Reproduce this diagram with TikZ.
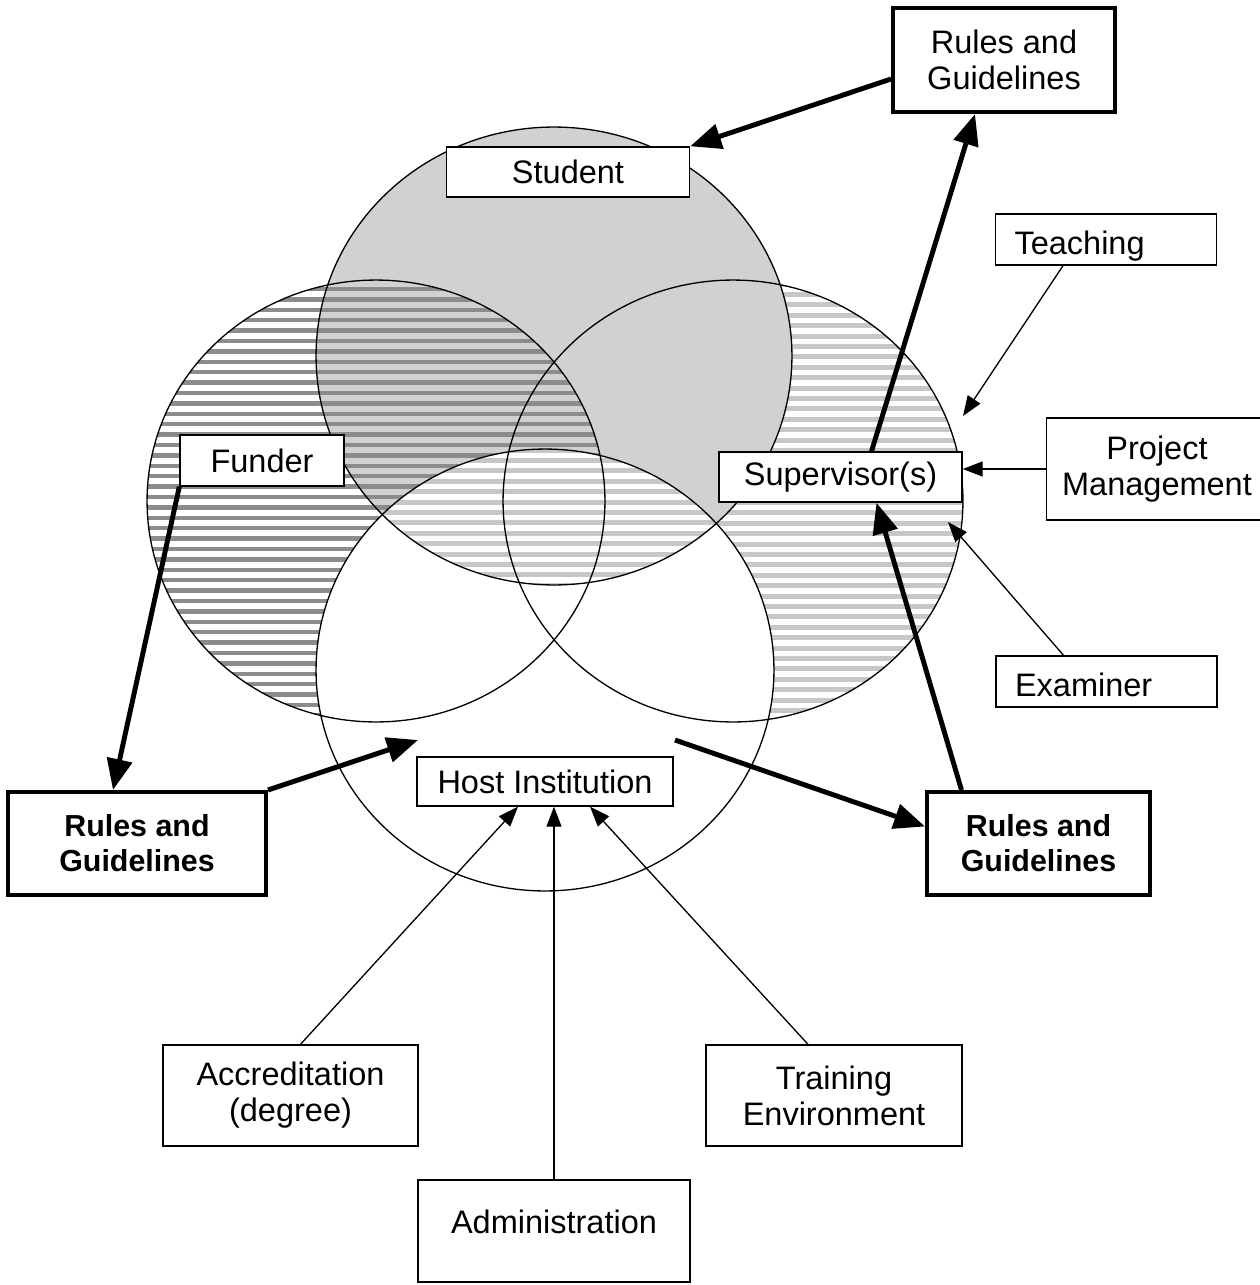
\documentclass[tikz,border=0pt]{standalone}
\usepackage{fontspec}
\setmainfont{Liberation Sans}
\usetikzlibrary{arrows.meta,calc}

\def\circStu{(554,356) ellipse (4.76cm and 4.58cm)}
\def\circFun{(376,501) ellipse (4.58cm and 4.42cm)}
\def\circSup{(733,501) ellipse (4.6cm and 4.42cm)}
\def\circHost{(545,670) ellipse (4.58cm and 4.42cm)}

\begin{document}
\begin{tikzpicture}[x=0.02cm,y=-0.02cm,
  box/.style={draw,line width=0.8pt,fill=white,align=center,inner sep=0pt,
    font=\fontsize{18.5}{20.5}\selectfont},
  leftbox/.style={box,align=left,inner xsep=0.38cm,text width=3.66cm,
    text height=0.6cm,text depth=0pt,minimum width=4.42cm,minimum height=1.02cm},
  rulebox/.style={box,line width=2.3pt},
  rulebold/.style={rulebox,font=\fontsize{17.3}{20}\selectfont\bfseries},
  thick arrow/.style={line width=2.8pt,-{Triangle[length=0.62cm,width=0.5cm]}},
  thin arrow/.style={line width=0.75pt,-{Triangle[length=0.4cm,width=0.3cm]}},
  darkstripe/.style={black!45,line width=0.09cm},
  lightstripe/.style={black!22,line width=0.1cm}]
\useasboundingbox (0,0) rectangle (1260,1285);

% supervisor circle
\fill[white] \circSup;
\begin{scope}
  \clip \circSup;
  \foreach \y in {284,294.4,...,726} \draw[lightstripe] (500,\y) -- (970,\y);
\end{scope}
% funder circle
\fill[white] \circFun;
\begin{scope}
  \clip \circFun;
  \foreach \y in {289,299.4,...,726} \draw[darkstripe] (140,\y) -- (610,\y);
\end{scope}
% student circle
\fill[black!18] \circStu;
\begin{scope}
  \clip \circStu;
  \clip \circFun;
  \foreach \y in {289,299.4,...,726} \draw[darkstripe] (140,\y) -- (610,\y);
\end{scope}
% host circle
\fill[white] \circHost;
\begin{scope}
  \clip \circHost;
  \clip \circStu;
  \foreach \y in {450,460.4,...,590} \draw[lightstripe] (300,\y) -- (800,\y);
\end{scope}
\draw[line width=0.75pt] \circSup;
\draw[line width=0.75pt] \circFun;
\draw[line width=0.75pt] \circStu;
\draw[line width=0.75pt] \circHost;

% boxes
\node[rulebox,minimum width=4.44cm,minimum height=2.08cm] (trg) at (1004,60) {Rules and\\Guidelines};
\node[box,minimum width=4.86cm,minimum height=1cm] (stu) at (568,172) {Student};
\node[leftbox] (teach) at (1106,239.5) {Teaching};
\node[box,minimum width=4.42cm,minimum height=2.04cm] (pm) at (1157,469) {Project\\Management};
\node[box,minimum width=4.86cm,minimum height=1cm] (sup) at (840.5,477) {Supervisor(s)};
\node[box,minimum width=3.28cm,minimum height=1.02cm] (fun) at (262,460.5) {Funder};
\node[leftbox] (exam) at (1106.5,681.5) {Examiner};
\node[box,minimum width=5.12cm,minimum height=0.98cm] (host) at (545,781.5) {Host Institution};
\node[rulebold,minimum width=5.16cm,minimum height=2.06cm] (blg) at (137,843.5) {Rules and\\Guidelines};
\node[rulebold,minimum width=4.46cm,minimum height=2.06cm] (brg) at (1038.5,843.5) {Rules and\\Guidelines};
\node[box,minimum width=5.1cm,minimum height=2.02cm] (acc) at (290.5,1095.5) {Accreditation\\(degree)};
\node[box,minimum width=5.12cm,minimum height=2.02cm] (train) at (834,1095.5) {Training\\Environment};
\node[box,minimum width=5.44cm,minimum height=2.04cm,text depth=0.36cm] (adm) at (554,1231) {Administration};

\coordinate (hl) at (418,740);
\coordinate (hr) at (675,740);
\coordinate (tt) at (963,416);
\coordinate (te) at (948,522);

% rules and guidelines
\draw[thick arrow] ($(trg.west)+(0,19)$) -- (stu.north east);
\draw[thick arrow] ($(sup.north)+(31,0)$) -- ($(trg.south)+(-29,0)$);
\draw[thick arrow] ($(brg.north)+(-77,0)$) -- ($(sup.south)+(36,0)$);
\draw[thick arrow] (hr) -- ($(brg.west)+(0,-17)$);
\draw[thick arrow] (fun.south west) -- ($(blg.north)+(-24,0)$);
\draw[thick arrow] (blg.north east) -- (hl);

% supervisor roles
\draw[thin arrow] ($(teach.south)+(-43,0)$) -- (tt);
\draw[thin arrow] (pm.west) -- (pm.west -| sup.east);
\draw[thin arrow] ($(exam.north)+(-43,0)$) -- (te);

% host institution
\draw[thin arrow] ($(acc.north)+(10,0)$) -- ($(host.south)+(-27,0)$);
\draw[thin arrow] (adm.north) -- (adm.north |- host.south);
\draw[thin arrow] ($(train.north)+(-26,0)$) -- ($(host.south)+(45,0)$);
\end{tikzpicture}
\end{document}
